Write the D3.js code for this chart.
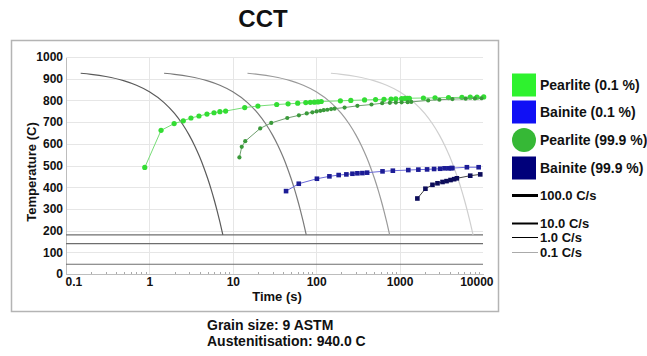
<!DOCTYPE html>
<meta charset="utf-8">
<style>
body { margin: 0; background: #fff; }
text { font-family: Arial, "Liberation Sans", sans-serif; font-weight: bold; fill: #111; }
.grid line { stroke: #e6e6e6; stroke-width: 1; }
.axis path, .axis line { stroke: #bdbdbd; shape-rendering: crispEdges; }
.axis text { font-size: 12px; fill: #111; }
</style>
<svg width="647" height="356"></svg>
<script src="https://d3js.org/d3.v7.min.js"></script>
<script>

// ---- data ----
var xTicks = [0.1, 1, 10, 100, 1000, 10000];
var yTicks = [0, 100, 200, 300, 400, 500, 600, 700, 800, 900, 1000];

var rateLabels = ["100.0 C/s", "10.0 C/s", "1.0 C/s", "0.1 C/s"];
var coolTemps = [925, 920, 910, 890, 870, 840, 790, 740, 690, 640, 590, 540, 490, 440, 390, 340, 290, 240, 180];
var coolTimes100 = [0.15, 0.2, 0.3, 0.5, 0.7, 1, 1.5, 2, 2.5, 3, 3.5, 4, 4.5, 5, 5.5, 6, 6.5, 7, 7.6];
var coolTimes10 = [1.5, 2, 3, 5, 7, 10, 15, 20, 25, 30, 35, 40, 45, 50, 55, 60, 65, 70, 76];
var coolTimes1 = [15, 20, 30, 50, 70, 100, 150, 200, 250, 300, 350, 400, 450, 500, 550, 600, 650, 700, 760];
var coolTimes01 = [150, 200, 300, 500, 700, 1000, 1500, 2000, 2500, 3000, 3500, 4000, 4500, 5000, 5500, 6000, 6500, 7000, 7600];

var martensiteTemps = [180, 140, 45];

var pearliteStartTime = [0.88, 1.38, 1.98, 2.55, 3.15, 3.93, 4.9, 5.95, 7.0, 8.2, 13.9, 20, 33.6, 46, 60, 75, 85, 95, 105, 115,
  195, 260, 380, 515, 650, 790, 900, 1060, 1160, 1250, 1310, 1930, 2660, 3860, 5590, 7030, 8470, 10200];
var pearliteStartTemp = [491, 662, 693, 706, 719, 728, 737, 743, 748, 751, 767, 774, 781, 784, 787, 790, 791, 792, 793, 795,
  798, 800, 802, 804, 805, 806, 807, 808, 809, 809, 810, 811, 812, 813, 814, 815, 815, 816];

var pearliteEndTime = [12, 12.8, 14.1, 21.3, 28.9, 45, 62, 77, 90, 101, 112, 123, 136, 151, 166, 219, 312, 460, 618, 764,
  902, 1057, 1249, 1380, 2200, 3000, 4300, 6200, 8000, 9600];
var pearliteEndTemp = [537, 586, 612, 671, 696, 719, 731, 740, 745, 749, 752, 755, 757, 760, 762, 767, 775, 781, 787, 789,
  790, 791, 792, 793, 800, 803, 806, 808, 809, 810];

var bainiteStartTime = [43.5, 61.8, 102, 144, 186, 230, 272, 312, 358, 408, 624, 830, 1271, 1678, 2136, 2592, 3063, 3458, 3865, 4150, 4290, 6410, 8870];
var bainiteStartTemp = [382, 416, 439, 450, 456, 459, 462, 464, 465, 467, 473, 476, 479, 481, 482, 484, 485, 487, 487, 488, 488, 492, 492];

var bainiteEndTime = [1633, 2040, 2478, 2847, 3270, 3655, 4080, 4510, 4860, 7030, 9270];
var bainiteEndTemp = [348, 393, 411, 418, 424, 428, 433, 437, 441, 453, 459];

var phaseLabels = ["Pearlite (0.1 %)", "Bainite (0.1 %)", "Pearlite (99.9 %)", "Bainite (99.9 %)"];

// ---- drawing ----
var svg = d3.select("svg");

var x = d3.scaleLog().domain([0.1, 10000]).range([66, 483]),
    y = d3.scaleLinear().domain([0, 1000]).range([274, 57]);

var zip = function(ts, vs) { return ts.map(function(t, i) { return [t, vs[i]]; }); };

svg.append("rect")
  .attr("x", 11.5).attr("y", 40.5)
  .attr("width", 487).attr("height", 271)
  .attr("fill", "none").attr("stroke", "#b4b4b4").attr("stroke-width", 1.5);

svg.append("text")
  .attr("x", 263).attr("y", 27)
  .attr("text-anchor", "middle")
  .style("font-size", "24px")
  .text("CCT");

var grid = svg.append("g").attr("class", "grid");
grid.selectAll(".h").data(yTicks.slice(1)).enter().append("line")
  .attr("x1", x(0.1)).attr("x2", x(10000))
  .attr("y1", function(d) { return Math.round(y(d)) + 0.5; })
  .attr("y2", function(d) { return Math.round(y(d)) + 0.5; });
grid.selectAll(".v").data(xTicks.slice(1, -1)).enter().append("line")
  .attr("x1", function(d) { return Math.round(x(d)) + 0.5; })
  .attr("x2", function(d) { return Math.round(x(d)) + 0.5; })
  .attr("y1", y(1000)).attr("y2", y(0));

// x axis with minor ticks
var minor = [];
xTicks.slice(0, -1).forEach(function(d) {
  for (var k = 2; k < 10; k++) minor.push(d * k);
});
svg.append("g").selectAll("line").data(minor).enter().append("line")
  .attr("x1", function(d) { return Math.round(x(d)) + 0.5; })
  .attr("x2", function(d) { return Math.round(x(d)) + 0.5; })
  .attr("y1", y(0) - 2).attr("y2", y(0) + 1)
  .attr("stroke", "#aaa");

var xAxis = svg.append("g")
  .attr("class", "axis")
  .attr("transform", "translate(0," + y(0) + ")")
  .call(d3.axisBottom(x).tickValues(xTicks).tickSize(0).tickPadding(3)
    .tickFormat(function(d) { return String(d); }));
xAxis.selectAll("text").filter(function(d) { return d === 0.1; })
  .attr("text-anchor", "start").attr("dx", -1);
xAxis.selectAll("text").filter(function(d) { return d === 10000; })
  .attr("text-anchor", "end").attr("dx", 10);

svg.append("g")
  .attr("class", "axis")
  .attr("transform", "translate(" + x(0.1) + ",0)")
  .call(d3.axisLeft(y).tickValues(yTicks).tickSize(0).tickPadding(3).tickFormat(d3.format("d")));

svg.append("text")
  .attr("transform", "translate(31,172) rotate(-90)")
  .attr("text-anchor", "middle")
  .attr("dy", "0.35em")
  .style("font-size", "13px")
  .text("Temperature (C)");

svg.append("text")
  .attr("x", 277).attr("y", 301)
  .attr("text-anchor", "middle")
  .style("font-size", "13px")
  .text("Time (s)");

svg.append("text").attr("x", 207).attr("y", 330).style("font-size", "14px").text("Grain size: 9 ASTM");
svg.append("text").attr("x", 207).attr("y", 346).style("font-size", "14px").text("Austenitisation: 940.0 C");

// martensite lines
svg.append("g").selectAll("line").data(martensiteTemps).enter().append("line")
  .attr("x1", x(0.1)).attr("x2", x(10000))
  .attr("y1", function(d) { return y(d); })
  .attr("y2", function(d) { return y(d); })
  .attr("stroke", "#6e6e6e").attr("stroke-width", 1.2);

// cooling curves
var line = d3.line()
  .x(function(d) { return x(d[0]); })
  .y(function(d) { return y(d[1]); })
  .curve(d3.curveMonotoneX);

var cooling = [coolTimes100, coolTimes10, coolTimes1, coolTimes01];
var coolColors = ["#5a5a5a", "#7a7a7a", "#9a9a9a", "#cfcfcf"];
cooling.forEach(function(ts, i) {
  svg.append("path")
    .attr("d", line(zip(ts, coolTemps)))
    .attr("fill", "none")
    .attr("stroke", coolColors[i])
    .attr("stroke-width", 1.2);
});

// transformation curves
var straight = d3.line()
  .x(function(d) { return x(d[0]); })
  .y(function(d) { return y(d[1]); });

var phases = [
  {pts: zip(pearliteStartTime, pearliteStartTemp), line: "#77dd77", fill: "#33dd33", shape: "circle", r: 2.6},
  {pts: zip(pearliteEndTime, pearliteEndTemp), line: "#6f9f6f", fill: "#3a9a3a", shape: "circle", r: 2.1},
  {pts: zip(bainiteStartTime, bainiteStartTemp), line: "#6a6ad8", fill: "#1c1c96", shape: "square", r: 2.3},
  {pts: zip(bainiteEndTime, bainiteEndTemp), line: "#444", fill: "#0c0c5a", shape: "square", r: 2.3}
];

phases.forEach(function(p) {
  svg.append("path")
    .attr("d", straight(p.pts))
    .attr("fill", "none")
    .attr("stroke", p.line)
    .attr("stroke-width", 1);
  var g = svg.append("g");
  if (p.shape === "circle") {
    g.selectAll("circle").data(p.pts).enter().append("circle")
      .attr("cx", function(d) { return x(d[0]); })
      .attr("cy", function(d) { return y(d[1]); })
      .attr("r", p.r)
      .attr("fill", p.fill);
  } else {
    g.selectAll("rect").data(p.pts).enter().append("rect")
      .attr("x", function(d) { return x(d[0]) - p.r; })
      .attr("y", function(d) { return y(d[1]) - p.r; })
      .attr("width", p.r * 2).attr("height", p.r * 2)
      .attr("fill", p.fill);
  }
});

// legend
var legend = svg.append("g");
var swatchY = [85, 112, 140, 168];
var swatchColors = ["#2ef22e", "#1010f5", "#36b836", "#00007a"];
phaseLabels.forEach(function(label, i) {
  if (i === 2) {
    legend.append("circle").attr("cx", 524).attr("cy", swatchY[i]).attr("r", 12).attr("fill", swatchColors[i]);
  } else {
    legend.append("rect").attr("x", 512).attr("y", swatchY[i] - 11.5)
      .attr("width", 24).attr("height", 23).attr("fill", swatchColors[i]);
  }
  legend.append("text").attr("x", 540).attr("y", swatchY[i] + 5)
    .style("font-size", "14px").text(label);
});

var rateY = [195.5, 223.5, 237.5, 252.5];
var rateWidths = [3, 2, 1, 1];
var rateColors = ["#000", "#000", "#000", "#aaa"];
rateLabels.forEach(function(label, i) {
  legend.append("line")
    .attr("x1", 512).attr("x2", 538)
    .attr("y1", rateY[i]).attr("y2", rateY[i])
    .attr("stroke", rateColors[i]).attr("stroke-width", rateWidths[i]);
  legend.append("text").attr("x", 540).attr("y", rateY[i] + 4.5)
    .style("font-size", "13px").text(label);
});
</script>
